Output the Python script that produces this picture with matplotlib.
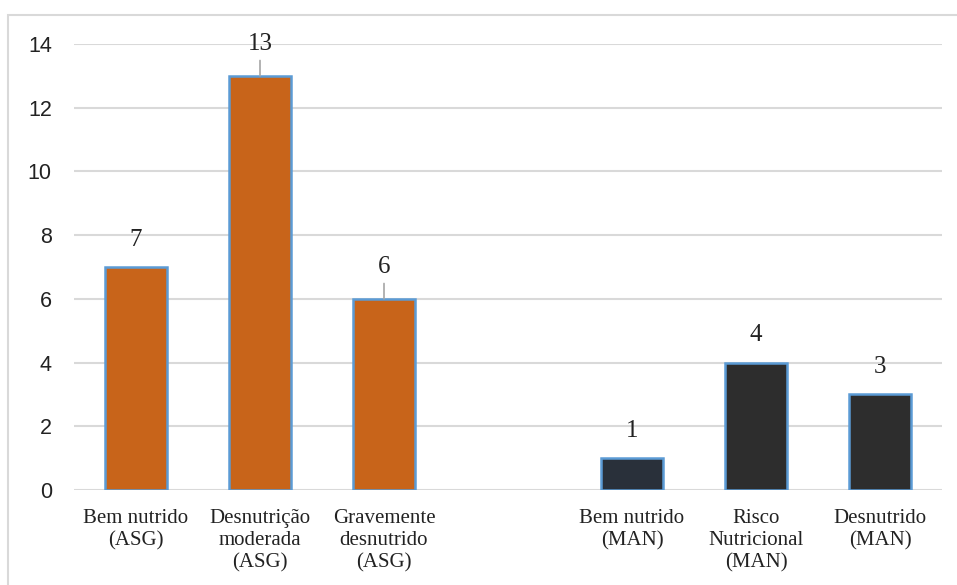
import matplotlib.pyplot as plt
from matplotlib.patches import Rectangle
import numpy as np

# Data:
categories = ['Bem nutrido\n(ASG)', 'Desnutrição\nmoderada\n(ASG)', 'Gravemente\ndesnutrido\n(ASG)', '',
              'Bem nutrido\n(MAN)', 'Risco\nNutricional\n(MAN)', 'Desnutrido\n(MAN)']
values = [7, 13, 6, np.nan, 1, 4, 3]
y_ticks = [0, 2, 4, 6, 8, 10, 12, 14]

# Styles:
bar_colors = ['#C8641A', '#C8641A', '#C8641A', 'none', '#29303A', '#2D2D2D', '#2D2D2D']
leader = [False, True, True, False, False, False, False]
edge_blue = '#5B9BD5'
grid_grey = '#D9D9D9'
serif = ['Liberation Serif', 'DejaVu Serif']

fig = plt.figure(figsize=(9.57, 5.85), dpi=100)
ax = fig.add_axes([74 / 957, 95 / 585, 868 / 957, 446 / 585])

# Outer chart border (cut off on right and bottom as in the source):
fig.patches.append(Rectangle((8 / 957, -0.05), 1.0, (585 - 15) / 585 + 0.05, transform=fig.transFigure,
                             fill=False, edgecolor=grid_grey, linewidth=1.5))

x = np.arange(len(categories))
heights = np.nan_to_num(values)
bars = ax.bar(x, heights, width=0.5, color=bar_colors, edgecolor=edge_blue, linewidth=1.8, zorder=3)
for b, v in zip(bars, values):
    if np.isnan(v):
        b.set_visible(False)

# Value labels with leader lines where the label is lifted:
for xi, v, lead in zip(x, values, leader):
    if np.isnan(v):
        continue
    if lead:
        ax.annotate(str(int(v)), xy=(xi, v), xytext=(0, 23), textcoords='offset points', ha='center',
                    va='center', fontsize=18, family=serif, color='#222222',
                    arrowprops=dict(arrowstyle='-', color='#A6A6A6', lw=1.2, shrinkA=2, shrinkB=0))
    else:
        ax.annotate(str(int(v)), xy=(xi, v), xytext=(0, 19.5), textcoords='offset points', ha='center',
                    va='center', fontsize=18, family=serif, color='#222222')

ax.set_xlim(-0.5, len(categories) - 0.5)
ax.set_ylim(0, 14)
ax.set_yticks(y_ticks)
ax.set_yticklabels([str(t) for t in y_ticks], family=['Liberation Sans', 'DejaVu Sans'], fontsize=15.5,
                   color='#222222')
ax.set_xticks(x)
ax.set_xticklabels(categories, family=serif, fontsize=15, color='#222222', linespacing=1.2)
ax.tick_params(axis='both', length=0)
ax.tick_params(axis='x', pad=14)
ax.tick_params(axis='y', pad=16)
for s in ax.spines.values():
    s.set_visible(False)
ax.grid(axis='y', color=grid_grey, linewidth=1.5, zorder=0)
ax.set_axisbelow(True)

fig.savefig('out.png', dpi=100)
